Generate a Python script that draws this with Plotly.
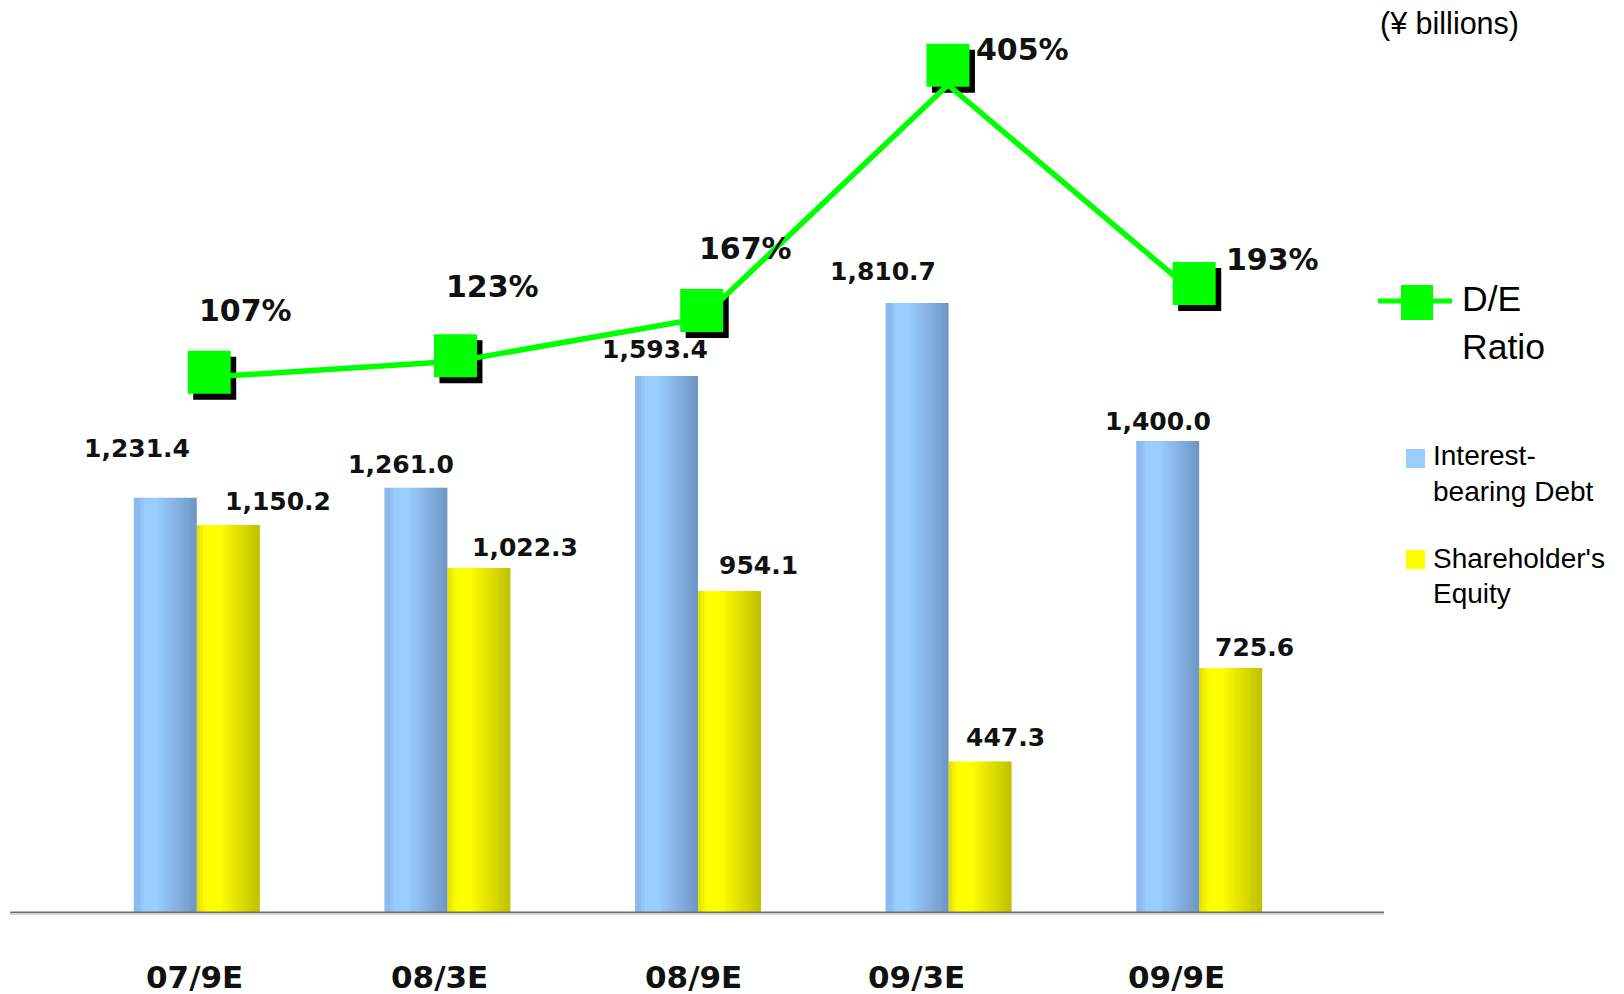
import plotly.graph_objects as go

# ---------------- data ----------------
categories = ["07/9E", "08/3E", "08/9E", "09/3E", "09/9E"]
debt = [1231.4, 1261.0, 1593.4, 1810.7, 1400.0]          # Interest-bearing Debt
equity = [1150.2, 1022.3, 954.1, 447.3, 725.6]           # Shareholder's Equity
de_ratio = [107, 123, 167, 405, 193]                     # D/E Ratio (%)

# ---------------- style / layout constants ----------------
W, H = 1624, 994
PL, PR, PT, PB = 10, 1384, 0, 912          # plot area in pixels
GROUP_STEP = 250.6
BAR_W = 63 / GROUP_STEP
N_STRIPS = 20

debt_lbl_shift = [(-28, 49), (-15, 23), (-12, 26), (-34, 31.6), (-10, 19.5)]
eq_lbl_shift = [(50, 24), (46, 21), (29, 25.5), (25, 24), (24, 20)]
pct_lbl_shift = [(36, 61.5), (37.5, 68.8), (44, 61.6), (75, 15.8), (78.7, 24.5)]
cat_lbl_shift = [-2, -8.4, -5, -32, -22.6]


def px2x(p):
    return (p - PL) / (PR - PL)


def px2y(p):
    return (PB - p) / (PB - PT)


def hex2rgb(h):
    h = h.lstrip('#')
    return tuple(int(h[i:i + 2], 16) for i in (0, 2, 4))


def mix(c1, c2, t):
    a, b = hex2rgb(c1), hex2rgb(c2)
    return 'rgb(%d,%d,%d)' % tuple(round(a[i] + (b[i] - a[i]) * t) for i in range(3))


def blue_grad(t):
    if t < 0.105:
        return '#8cbaee'
    if t < 0.16:
        return '#94c5f8'
    if t < 0.37:
        return '#99ccff'
    return mix('#99ccff', '#6f96c3', (t - 0.37) / 0.63)


def yellow_grad(t):
    if t < 0.06:
        return '#e4e400'
    if t < 0.10:
        return '#f0f000'
    if t < 0.17:
        return '#fafa00'
    if t < 0.35:
        return '#ffff00'
    return mix('#ffff00', '#c0c000', (t - 0.35) / 0.65)


xs = list(range(len(categories)))
fig = go.Figure()

sw = BAR_W / N_STRIPS
for k in range(N_STRIPS):
    t = (k + 0.5) / N_STRIPS
    wk = sw * (1.25 if k < N_STRIPS - 1 else 1.0)
    fig.add_bar(x=xs, y=debt, offset=-BAR_W + k * sw, width=wk,
                marker=dict(color=blue_grad(t), line=dict(width=0)),
                hoverinfo='skip', showlegend=False)
    fig.add_bar(x=xs, y=equity, offset=k * sw, width=wk,
                marker=dict(color=yellow_grad(t), line=dict(width=0)),
                hoverinfo='skip', showlegend=False)

# D/E ratio line (drawn on its own slightly compressed scale) + shadowed markers
SH_DX = 5.5 / 246.25
SH_DY = 6 / 1.03
fig.add_scatter(x=[v + SH_DX for v in xs], y=[r - SH_DY for r in de_ratio], mode='markers',
                marker=dict(symbol='square', size=43, color='black', line=dict(width=0)),
                xaxis='x2', yaxis='y2', hoverinfo='skip', showlegend=False)
fig.add_scatter(x=xs, y=de_ratio, mode='lines', line=dict(color='#00ff00', width=5.5),
                xaxis='x2', yaxis='y3', hoverinfo='skip', showlegend=False)
fig.add_scatter(x=xs, y=de_ratio, mode='markers',
                marker=dict(symbol='square', size=43, color='#00ff00', line=dict(width=0)),
                xaxis='x2', yaxis='y2', hoverinfo='skip', showlegend=False)

ann = []
lbl_font = dict(family='DejaVu Sans', size=25, color='#111111', weight='bold')
for i, v in enumerate(debt):
    ann.append(dict(x=i - BAR_W / 2, y=v, xref='x', yref='y', text=f"{v:,.1f}",
                    showarrow=False, font=lbl_font, xanchor='center', yanchor='middle',
                    xshift=debt_lbl_shift[i][0], yshift=debt_lbl_shift[i][1]))
for i, v in enumerate(equity):
    ann.append(dict(x=i + BAR_W / 2, y=v, xref='x', yref='y', text=f"{v:,.1f}",
                    showarrow=False, font=lbl_font, xanchor='center', yanchor='middle',
                    xshift=eq_lbl_shift[i][0], yshift=eq_lbl_shift[i][1]))
for i, r in enumerate(de_ratio):
    ann.append(dict(x=i, y=r, xref='x2', yref='y2', text=f"{r}%",
                    showarrow=False, font=dict(family='DejaVu Sans', size=30, color='#111111', weight='bold'),
                    xanchor='center', yanchor='middle',
                    xshift=pct_lbl_shift[i][0], yshift=pct_lbl_shift[i][1]))
for i, c in enumerate(categories):
    ann.append(dict(x=i, y=px2y(976.5), xref='x', yref='paper', text=c, showarrow=False,
                    font=dict(family='DejaVu Sans', size=31, color='#111111', weight='bold'),
                    xanchor='center', yanchor='middle', xshift=cat_lbl_shift[i]))

leg_font = dict(family='Liberation Sans, Arial, sans-serif', size=28, color='#000000')
big_font = dict(family='Liberation Sans, Arial, sans-serif', size=35.5, color='#000000')
for txt, ypx, f in [("D/E", 299, big_font), ("Ratio", 347, big_font),
                    ("Interest-", 455.5, leg_font), ("bearing Debt", 491.5, leg_font),
                    ("Shareholder's", 558, leg_font), ("Equity", 593, leg_font)]:
    ann.append(dict(x=px2x(1460 if f is big_font else 1431), y=px2y(ypx), xref='paper', yref='paper',
                    text=txt, showarrow=False, font=f, xanchor='left', yanchor='middle'))
ann.append(dict(x=px2x(1449), y=px2y(23), xref='paper', yref='paper', text="(¥ billions)",
                showarrow=False, font=dict(family='Liberation Sans, Arial, sans-serif', size=30.5, color='#000000'),
                xanchor='center', yanchor='middle'))

shapes = [
    # axis line with light shadow
    dict(type='line', xref='paper', yref='paper', x0=0, x1=1, y0=px2y(914), y1=px2y(914),
         line=dict(color='#c4c4c4', width=1.5)),
    dict(type='line', xref='paper', yref='paper', x0=0, x1=1, y0=px2y(912.2), y1=px2y(912.2),
         line=dict(color='#6e6e6e', width=1.6)),
    # legend: D/E ratio
    dict(type='line', xref='paper', yref='paper', x0=px2x(1378), x1=px2x(1452), y0=px2y(301), y1=px2y(301),
         line=dict(color='#00ff00', width=5)),
    dict(type='rect', xref='paper', yref='paper', x0=px2x(1401), x1=px2x(1433), y0=px2y(320), y1=px2y(285),
         fillcolor='#00ff00', line=dict(width=0)),
    # legend: bars
    dict(type='rect', xref='paper', yref='paper', x0=px2x(1406), x1=px2x(1425), y0=px2y(468), y1=px2y(449),
         fillcolor='#99ccff', line=dict(width=0)),
    dict(type='rect', xref='paper', yref='paper', x0=px2x(1406), x1=px2x(1425), y0=px2y(569), y1=px2y(550),
         fillcolor='#ffff00', line=dict(width=0)),
]

plot_h = PB - PT
fig.update_layout(
    width=W, height=H,
    margin=dict(l=PL, r=W - PR, t=PT, b=H - PB, pad=0),
    paper_bgcolor='white', plot_bgcolor='white',
    barmode='overlay', showlegend=False,
    xaxis=dict(range=[(PL - 196.8) / GROUP_STEP, (PR - 196.8) / GROUP_STEP], visible=False, fixedrange=True),
    xaxis2=dict(range=[(PL - 209.2) / 246.25, (PR - 209.2) / 246.25], overlaying='x', visible=False),
    yaxis=dict(range=[0, plot_h / 0.3364], visible=False),
    yaxis2=dict(range=[(482.4 - PB) / 1.03, 482.4 / 1.03], overlaying='y', visible=False),
    yaxis3=dict(range=[(481.9 - PB) / 0.98, 481.9 / 0.98], overlaying='y', visible=False),
    annotations=ann, shapes=shapes,
)

fig.write_html("out.html")
